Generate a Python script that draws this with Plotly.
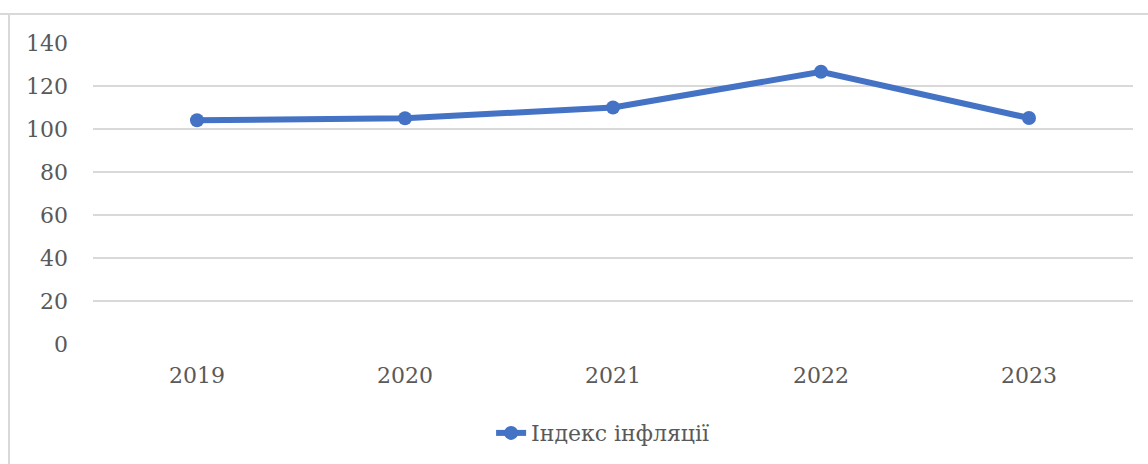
import plotly.graph_objects as go

years = ["2019", "2020", "2021", "2022", "2023"]
inflation_index = [104.1, 105.0, 110.0, 126.6, 105.1]
y_ticks = [0, 20, 40, 60, 80, 100, 120, 140]
series_name = "Індекс інфляції"

W, H = 1148, 464
FONT = "DejaVu Serif"
BLUE = "#4472C4"

fig = go.Figure()
fig.add_trace(go.Scatter(
    x=years, y=inflation_index, name=series_name,
    mode="lines+markers",
    line=dict(color=BLUE, width=6),
    marker=dict(color=BLUE, size=14),
))

fig.update_layout(
    width=W, height=H,
    margin=dict(l=93, r=15, t=43, b=120, autoexpand=False),
    paper_bgcolor="white", plot_bgcolor="white",
    font=dict(family=FONT, size=22, color="#595959"),
    showlegend=True,
    legend=dict(orientation="h", x=0.49, xanchor="center", y=-0.296, yanchor="middle",
                font=dict(family=FONT, size=22, color="#595959")),
    xaxis=dict(type="category", range=[-0.5, 4.5], showgrid=False, showline=False,
               ticks="", ticklabelstandoff=16),
    yaxis=dict(range=[0, 140], tickvals=y_ticks, showgrid=True, gridcolor="#d9d9d9",
               gridwidth=2, zeroline=False, showline=False, ticks="",
               ticklabelstandoff=24),
    shapes=[
        dict(type="line", xref="paper", yref="paper", x0=-93/1040, x1=1.1, y0=1 + 29/301, y1=1 + 29/301,
             line=dict(color="#d9d9d9", width=2)),
        dict(type="line", xref="paper", yref="paper", x0=-84/1040, x1=-84/1040, y0=1 + 30/301, y1=-0.5,
             line=dict(color="#d9d9d9", width=2)),
    ],
)

fig.write_html("out.html")
